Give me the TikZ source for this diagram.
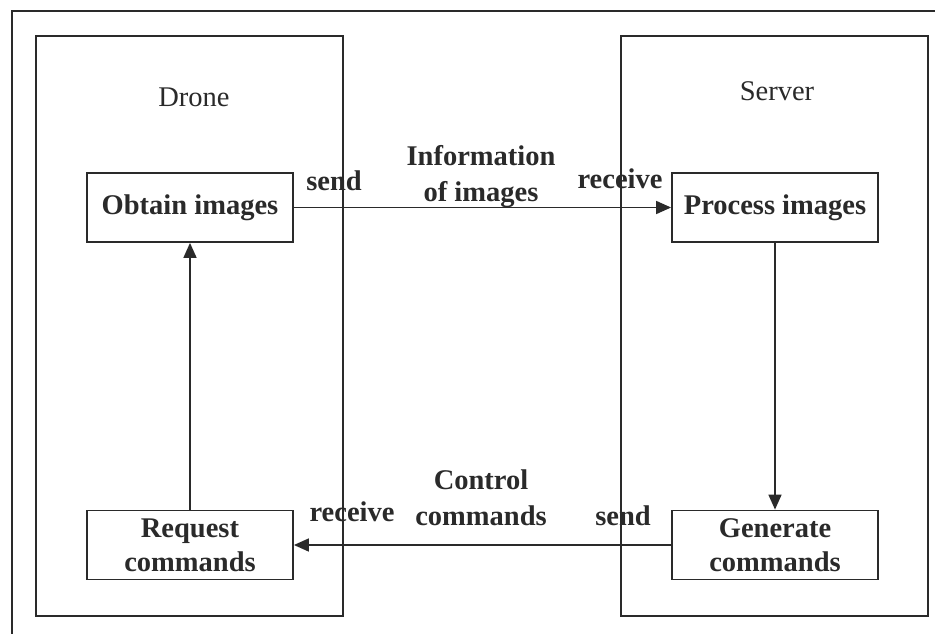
\documentclass[tikz,border=0pt]{standalone}
\usepackage{fontspec}
\setmainfont{Liberation Serif}
\usetikzlibrary{arrows.meta}
\definecolor{ink}{HTML}{2A2A2A}
\tikzset{
  px/.style={x=1pt,y=-1pt},
  frame/.style={draw=ink,line width=1.8pt,rectangle,minimum width=307pt,minimum height=580pt,inner sep=0pt},
  stepbox/.style={draw=ink,line width=1.8pt,rectangle,minimum width=206pt,minimum height=69pt,inner sep=0pt,align=center,font=\fontsize{28.5}{34}\selectfont\bfseries,text=ink},
  lbl/.style={font=\fontsize{28.5}{36}\selectfont\bfseries,text=ink,align=center,inner sep=0pt},
  title/.style={font=\fontsize{28.5}{32}\selectfont,text=ink,inner sep=0pt},
  conn/.style={draw=ink,line width=1.6pt,-{Triangle[length=15pt,width=13pt]}}
}
\begin{document}
\begin{tikzpicture}[px]
\useasboundingbox (0,0) rectangle (935,634);
\fill[white] (0,0) rectangle (935,634);
\draw[ink,line width=1.8pt] (935,11) -- (12,11) -- (12,634);
\node[frame] (drone) at (189.5,326) {};
\node[frame] (server) at (774.5,326) {};
\node[title] (dronelbl) at (194,97) {Drone};
\node[title] (serverlbl) at (777,91) {Server};
\node[stepbox] (obtain) at (190,207.5) {Obtain images};
\node[stepbox] (process) at (775,207.5) {Process images};
\node[stepbox] (request) at (190,545) {Request\\commands};
\node[stepbox] (generate) at (775,545) {Generate\\commands};
\draw[conn] (obtain.east) -- (process.west);
\draw[conn] (process.south) -- (generate.north);
\draw[conn] (generate.west) -- (request.east);
\draw[conn] (request.north) -- (obtain.south);
\node[lbl] (send1) at (334,181) {send};
\node[lbl] (info) at (481,177) {Information\\of images};
\node[lbl] (recv1) at (620,179) {receive};
\node[lbl] (ctrl) at (481,498) {Control\\commands};
\node[lbl] (recv2) at (352,512) {receive};
\node[lbl] (send2) at (623,516) {send};
\end{tikzpicture}
\end{document}
